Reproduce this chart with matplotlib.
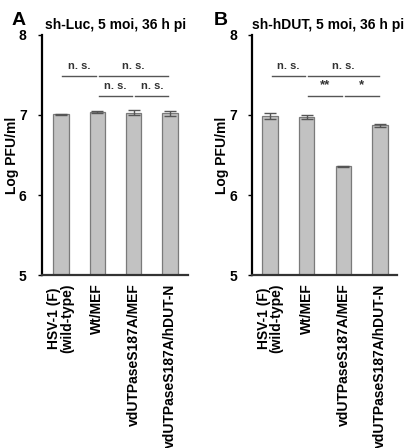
import matplotlib
matplotlib.use("Agg")
import matplotlib.pyplot as plt

plt.rcParams['font.family'] = ['Liberation Sans', 'DejaVu Sans']
plt.rcParams['font.weight'] = 'bold'

categories = ["HSV-1 (F)\n(wild-type)", "Wt/MEF", "vdUTPaseS187A/MEF", "vdUTPaseS187A/hDUT-N"]
a_values = [7.01, 7.04, 7.03, 7.02]
a_errors = [0.005, 0.015, 0.03, 0.035]
b_values = [6.99, 6.97, 6.36, 6.87]
b_errors = [0.035, 0.025, 0.005, 0.02]
a_title = "sh-Luc, 5 moi, 36 h pi"
b_title = "sh-hDUT, 5 moi, 36 h pi"
# significance: (bar_i, bar_j, level, label)
a_sig = [(0, 1, 7.49, "n. s."), (1, 3, 7.49, "n. s."), (1, 2, 7.24, "n. s."), (2, 3, 7.24, "n. s.")]
b_sig = [(0, 1, 7.49, "n. s."), (1, 3, 7.49, "n. s."), (1, 2, 7.24, "**"), (2, 3, 7.24, "*")]
yticks = [5, 6, 7, 8]

fig = plt.figure(figsize=(4.08, 4.48), dpi=100)

def panel(rect, values, errors, title, sig, letter, xlim, letter_x, title_x, ylab_x):
    ax = fig.add_axes(rect)
    x = list(range(len(values)))
    ax.bar(x, values, width=0.42, bottom=0, color='#c2c2c2', edgecolor='#7a7a7a', linewidth=0.9, zorder=2)
    ax.errorbar(x, values, yerr=errors, fmt='none', ecolor='#555555', elinewidth=1.0, capsize=4, capthick=1.0, zorder=3)
    ax.set_ylim(5, 8)
    ax.set_xlim(*xlim)
    ax.set_yticks(yticks)
    ax.set_yticklabels([str(t) for t in yticks], fontsize=10, fontweight='bold')
    ax.set_xticks(x)
    ax.set_xticklabels(categories, rotation=90, fontsize=10, fontweight='bold', va='top', ha='center', linespacing=0.9)
    ax.tick_params(axis='x', length=0, pad=6)
    ax.tick_params(axis='y', length=3, width=1, direction='out', pad=8)
    for s in ['top', 'right']:
        ax.spines[s].set_visible(False)
    ax.spines['left'].set_linewidth(1.6)
    ax.spines['bottom'].set_linewidth(1.6)
    ax.spines['bottom'].set_color('#333333')
    ax.set_ylabel("Log PFU/ml", fontsize=10, fontweight='bold')
    ax.yaxis.set_label_coords(ylab_x, 0.5)
    gap = 0.06
    for i, j, lev, lab in sig:
        ax.plot([i - 0.02 + gap, j - gap + 0.02], [lev, lev], color='#555555', linewidth=1.0, clip_on=False)
        fs = 8 if lab.startswith('n') else 9.5
        ax.text((i + j) / 2, lev + 0.06, lab, ha='center', va='bottom', fontsize=fs, fontweight='bold', color='#333333')
    fig.text(letter_x, 0.935, letter, fontsize=14, fontweight='bold', ha='left', va='bottom')
    fig.text(title_x, 0.928, title, fontsize=10, fontweight='bold', ha='left', va='bottom')
    return ax

panel([0.103, 0.386, 0.358, 0.536], a_values, a_errors, a_title, a_sig, "A", (-0.52, 3.5), 0.027, 0.11, -0.16)
panel([0.618, 0.386, 0.355, 0.536], b_values, b_errors, b_title, b_sig, "B", (-0.49, 3.46), 0.525, 0.617, -0.16)

fig.savefig("out.png", dpi=100)
